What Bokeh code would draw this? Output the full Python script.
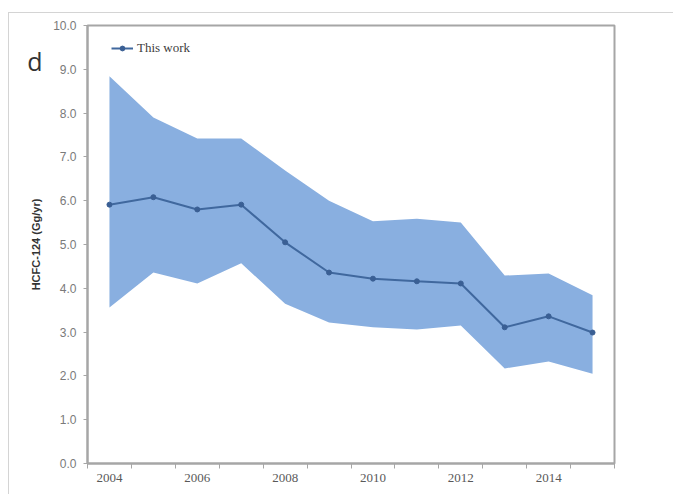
from bokeh.plotting import figure
from bokeh.models import FixedTicker, PrintfTickFormatter, Legend, LegendItem, LinearAxis
from bokeh.embed import file_html
from bokeh.resources import INLINE

years = [2004, 2005, 2006, 2007, 2008, 2009, 2010, 2011, 2012, 2013, 2014, 2015]
central = [5.91, 6.08, 5.80, 5.91, 5.05, 4.36, 4.22, 4.16, 4.11, 3.11, 3.36, 2.99]
upper = [8.84, 7.90, 7.42, 7.42, 6.69, 6.00, 5.53, 5.59, 5.50, 4.29, 4.34, 3.84]
lower = [3.56, 4.36, 4.11, 4.57, 3.65, 3.22, 3.11, 3.06, 3.15, 2.17, 2.33, 2.05]
x_tick_labels = [2004, 2006, 2008, 2010, 2012, 2014]
y_ticks = [0, 1, 2, 3, 4, 5, 6, 7, 8, 9, 10]
series_name = "This work"
y_title = "HCFC-124 (Gg/yr)"
panel_letter = "d"
letter_level = 9.2

p = figure(width=665, height=482, output_backend="svg", toolbar_location=None,
           x_range=(years[0] - 0.5, years[-1] + 0.5), y_range=(0, 10),
           min_border_left=78, min_border_right=60, min_border_top=12, min_border_bottom=32)
p.styles = {"margin-left": "8px", "margin-top": "12px",
            "border-top": "1px solid #d4d4d4", "border-left": "1px solid #d4d4d4"}

p.xgrid.visible = False
p.ygrid.visible = False
p.outline_line_color = "#a6a6a6"
p.outline_line_width = 2
p.background_fill_color = "white"
p.border_fill_color = "white"

band = p.varea(x=years, y1=lower, y2=upper, fill_color="#89afe0", fill_alpha=1.0)
ln = p.line(years, central, line_color="#40689e", line_width=2)
mk = p.scatter(years, central, size=5, fill_color="#3a5f94", line_color="#3a5f94")

legend = Legend(items=[LegendItem(label=series_name, renderers=[ln, mk])],
                location=(20, 403), background_fill_alpha=0, border_line_alpha=0,
                label_text_font="Liberation Serif", label_text_font_size="13px",
                label_text_color="#404040", glyph_width=22, glyph_height=12,
                padding=4, spacing=0, label_standoff=4)
p.add_layout(legend)

xa = p.xaxis[0]
xa.ticker = FixedTicker(ticks=x_tick_labels,
                        minor_ticks=[y - 0.5 for y in years] + [years[-1] + 0.5])
xa.major_tick_line_color = None
xa.minor_tick_in = 0
xa.minor_tick_out = 5
xa.minor_tick_line_color = "#a6a6a6"
xa.axis_line_color = "#a6a6a6"
xa.axis_line_width = 2
xa.major_label_text_font = "Liberation Serif"
xa.major_label_text_font_size = "13px"
xa.major_label_text_color = "#595959"
xa.major_label_standoff = 4

ya = p.yaxis[0]
ya.ticker = FixedTicker(ticks=y_ticks, minor_ticks=[])
ya.formatter = PrintfTickFormatter(format="%.1f")
ya.major_tick_in = 0
ya.major_tick_out = 4
ya.major_tick_line_color = "#a6a6a6"
ya.axis_line_color = "#a6a6a6"
ya.axis_line_width = 2
ya.major_label_text_font = "Liberation Sans"
ya.major_label_text_font_size = "12px"
ya.major_label_text_color = "#7a7a7a"
ya.major_label_standoff = 7
ya.axis_label = y_title
ya.axis_label_text_font = "Liberation Sans"
ya.axis_label_text_font_style = "bold"
ya.axis_label_text_font_size = "11px"
ya.axis_label_text_color = "#333333"
ya.axis_label_standoff = 8

# panel letter as the single label of an extra, line-less outer axis
letter_axis = LinearAxis(ticker=FixedTicker(ticks=[letter_level], minor_ticks=[]),
                         major_label_overrides={letter_level: panel_letter},
                         axis_line_color=None, major_tick_line_color=None,
                         minor_tick_line_color=None, major_tick_in=0, major_tick_out=0,
                         major_label_standoff=-15,
                         major_label_text_font="Open Sans",
                         major_label_text_font_size="25px",
                         major_label_text_color="#333333")
p.add_layout(letter_axis, "left")

open("out.html", "w").write(file_html(p, INLINE))
